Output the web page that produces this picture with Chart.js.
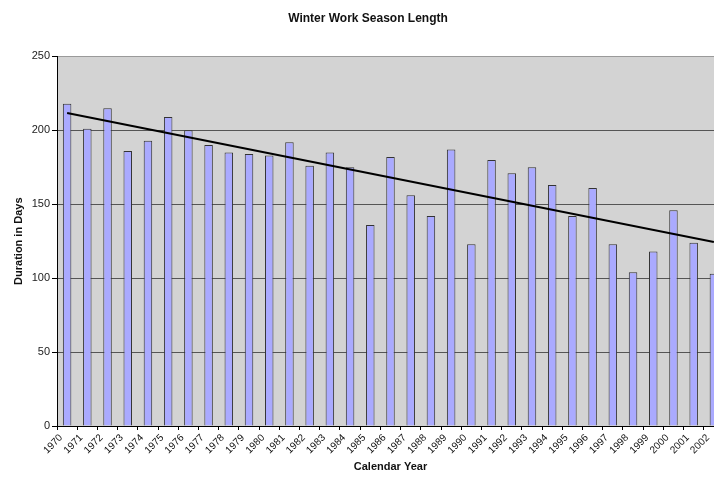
<!DOCTYPE html>
<html>
<head>
<meta charset="utf-8">
<script src="https://cdn.jsdelivr.net/npm/chart.js@4"></script>
<style>
  html, body { margin: 0; padding: 0; background: #fff; overflow: hidden; }
  #wrap { width: 714px; height: 478px; overflow: hidden; position: relative; }
  #box { width: 734px; height: 478px; position: absolute; left: 0; top: 0; }
</style>
</head>
<body>
<div id="wrap"><div id="box"><canvas id="seasonChart"></canvas></div></div>
<script>
const years = ['1970', '1971', '1972', '1973', '1974', '1975', '1976', '1977', '1978', '1979',
  '1980', '1981', '1982', '1983', '1984', '1985', '1986', '1987', '1988', '1989',
  '1990', '1991', '1992', '1993', '1994', '1995', '1996', '1997', '1998', '1999',
  '2000', '2001', '2002'];
const seasonDays = [218, 201, 215, 186, 193, 209, 200, 190, 185, 184,
  183, 192, 176, 185, 175, 136, 182, 156, 142, 187,
  123, 180, 171, 175, 163, 142, 161, 123, 104, 118,
  146, 124, 103];
// trend line: only the two end points, the gap is spanned
const trendDays = [211.7, null, null, null, null, null, null, null, null, null,
  null, null, null, null, null, null, null, null, null, null,
  null, null, null, null, null, null, null, null, null, null,
  null, null, 124.4];
const yTicks = [0, 50, 100, 150, 200, 250];

const textClr = '#111';

const plotBg = {
  id: 'plotBg',
  beforeDraw(chart) {
    const { ctx, chartArea: a } = chart;
    ctx.save();
    ctx.fillStyle = '#d3d3d3';
    ctx.fillRect(a.left, a.top, a.width, a.height);
    ctx.restore();
  }
};

const ctx = document.getElementById('seasonChart').getContext('2d');

const seasonChart = new Chart(ctx, {
  type: 'bar',
  data: {
    labels: years,
    datasets: [{
      type: 'line',
      label: 'Trend',
      data: trendDays,
      spanGaps: true,
      borderColor: '#000',
      borderWidth: 2,
      pointRadius: 0,
      fill: false,
      order: 0
    }, {
      label: 'Duration in Days',
      data: seasonDays,
      backgroundColor: '#aaaaff',
      borderColor: '#333',
      borderWidth: 1,
      barPercentage: 0.42,
      categoryPercentage: 1,
      order: 1
    }]
  },
  options: {
    responsive: true,
    maintainAspectRatio: false,
    animation: false,
    layout: {
      padding: { left: 12, right: 10, top: 0, bottom: 0 }
    },
    plugins: {
      legend: { display: false },
      tooltip: { enabled: false },
      title: {
        display: true,
        text: 'Winter Work Season Length',
        color: textClr,
        font: { family: 'Liberation Sans', size: 12, weight: 'bold' },
        padding: { top: 11, bottom: 31 }
      }
    },
    scales: {
      x: {
        offset: true,
        afterFit: s => { s.height = 52; },
        grid: {
          offset: true,
          drawOnChartArea: false,
          color: '#000',
          tickLength: 4
        },
        border: { color: '#000', width: 1 },
        ticks: {
          color: textClr,
          autoSkip: false,
          maxRotation: 45,
          minRotation: 45,
          labelOffset: -6,
          padding: 2,
          font: { family: 'Liberation Sans', size: 10 }
        },
        title: {
          display: true,
          text: 'Calendar Year',
          color: textClr,
          font: { family: 'Liberation Sans', size: 11, weight: 'bold' },
          padding: { top: 0, bottom: 4 }
        }
      },
      y: {
        min: 0,
        max: 250,
        afterFit: s => { s.width = 45; },
        afterBuildTicks: s => { s.ticks = yTicks.map(v => ({ value: v })); },
        grid: {
          color: c => (c.tick && c.tick.value === 250) ? '#9a9a9a' : '#555',
          tickColor: '#000',
          tickLength: 5
        },
        border: { color: '#000', width: 1 },
        ticks: {
          color: '#222',
          padding: 2,
          font: { family: 'Liberation Sans', size: 11 }
        },
        title: {
          display: true,
          text: 'Duration in Days',
          color: textClr,
          font: { family: 'Liberation Sans', size: 11, weight: 'bold' },
          padding: { top: 0, bottom: 4 }
        }
      }
    }
  },
  plugins: [plotBg]
});
</script>
</body>
</html>
